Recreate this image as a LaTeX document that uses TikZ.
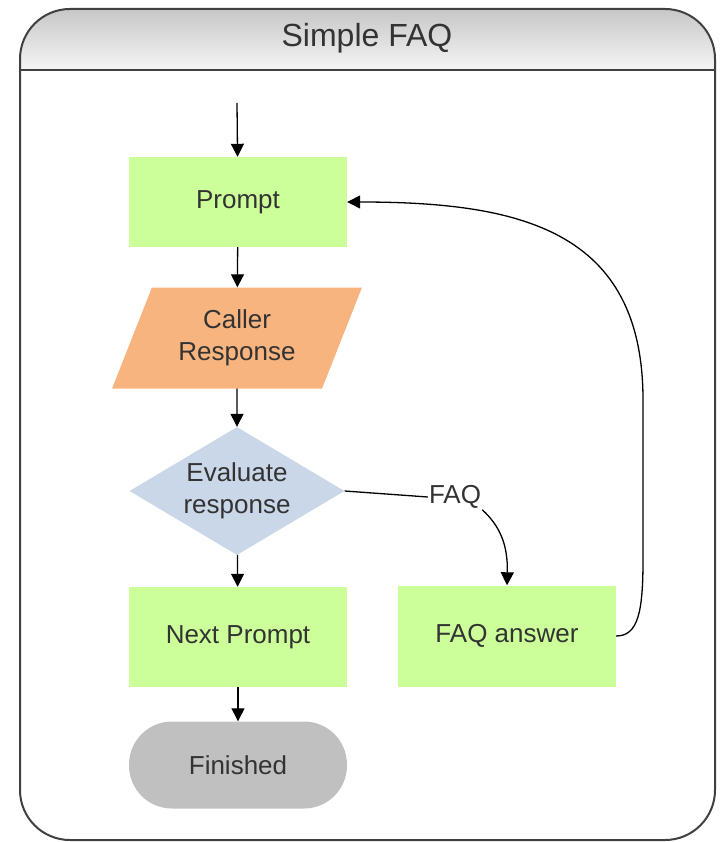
\documentclass[tikz,border=0pt]{standalone}
\usepackage{fontspec}
\setmainfont{Liberation Sans}
\usetikzlibrary{shapes.geometric,arrows.meta}
\definecolor{boxgreen}{HTML}{CCFF99}
\definecolor{ioorange}{HTML}{F8B47E}
\definecolor{decblue}{HTML}{C9D7E8}
\definecolor{endgray}{HTML}{C0C0C0}
\definecolor{txt}{HTML}{333333}
\definecolor{framecol}{HTML}{404040}
\begin{document}
\begin{tikzpicture}[x=1pt,y=-1pt,
  every node/.style={font=\fontsize{26}{32}\selectfont, text=txt, align=center},
  proc/.style={rectangle, fill=boxgreen, minimum width=218pt, inner sep=0pt},
  iobox/.style={trapezium, trapezium left angle=64, trapezium right angle=116,
    trapezium stretches=true, fill=ioorange, minimum width=250pt, minimum height=101pt, inner sep=0pt},
  decision/.style={diamond, fill=decblue, shape aspect=1.7, minimum width=215pt, minimum height=128pt, inner sep=0pt},
  terminal/.style={rectangle, rounded corners=43pt, fill=endgray, minimum width=218pt, minimum height=87pt, inner sep=0pt},
  conn/.style={line width=1.3pt, black, -{Triangle[length=13pt,width=13pt]}},
  plainline/.style={line width=1.3pt, black},
  frameline/.style={line width=2pt, framecol},
]
\useasboundingbox (0,0) rectangle (721,842);
% frame
\begin{scope}
  \clip[rounded corners=50pt] (20,9) rectangle (715,840);
  \shade[top color=black!22, bottom color=black!4] (20,9) rectangle (715,70);
\end{scope}
\draw[frameline] (20,70) -- (715,70);
\draw[frameline, rounded corners=50pt] (20,9) rectangle (715,840);
\node[font=\fontsize{32}{38}\selectfont] (title) at (367,38) {Simple FAQ};

% nodes
\coordinate (start) at (237,103);
\node[proc, minimum height=90pt] (prompt) at (238,202) {Prompt};
\node[iobox] (caller) at (237,338) {Caller\\Response};
\node[decision] (eval) at (237,491) {Evaluate\\response};
\node[proc, minimum height=100pt] (next) at (238,637) {Next Prompt};
\node[proc, minimum height=101pt] (faq) at (507,636) {FAQ answer};
\node[terminal] (fin) at (238,765) {Finished};
\node[inner sep=1pt] (faqlbl) at (455,497) {FAQ};

% connectors
\draw[conn] (start) -- (prompt);
\draw[conn] (prompt) -- (caller);
\draw[conn] (caller) -- (eval);
\draw[conn] (eval) -- (next);
\draw[conn] (next) -- (fin);
\draw[plainline] (eval.east) -- (faqlbl.west);
\draw[conn] (faqlbl.south east) .. controls (500,526) and (508,545) .. (faq.north);
\draw[conn] (faq.east) .. controls (638,636) and (643,612) .. (643,560) -- (643,400)
  .. controls (643,230) and (520,202) .. (prompt.east);
\end{tikzpicture}
\end{document}
